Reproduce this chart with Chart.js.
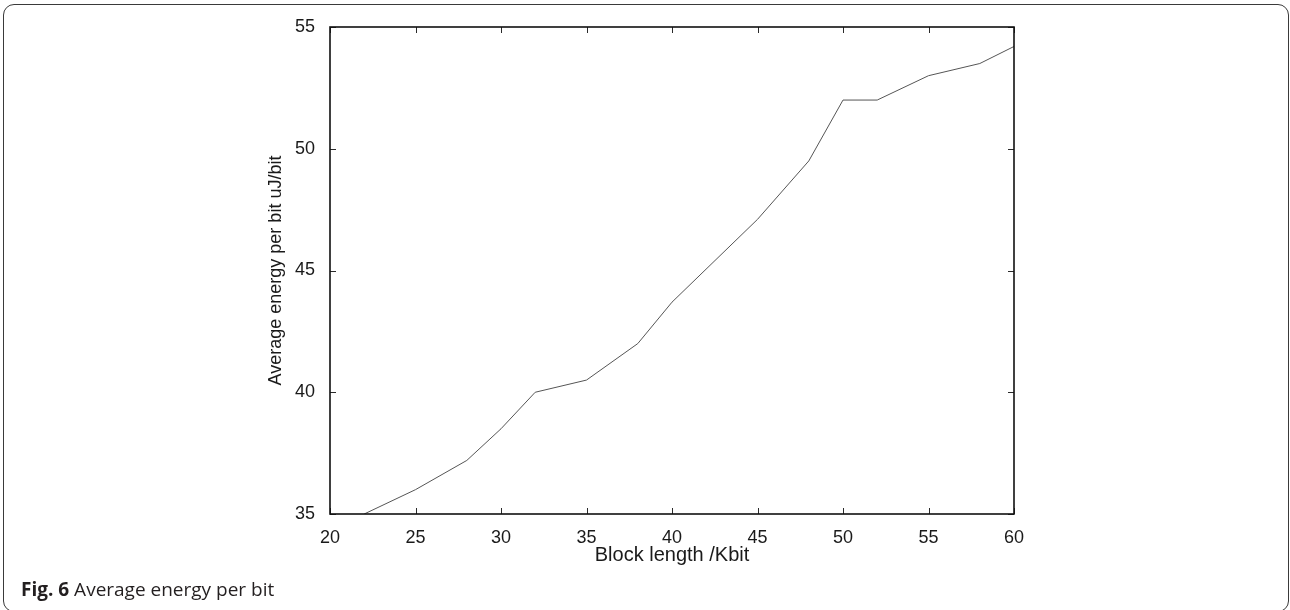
<!DOCTYPE html>
<html>
<head>
<meta charset="utf-8">
<script src="https://cdn.jsdelivr.net/npm/chart.js@4.4.1/dist/chart.umd.min.js"></script>
<style>
  html, body { margin: 0; padding: 0; background: #ffffff; }
  #wrap { position: relative; width: 1290px; height: 610px; overflow: hidden; }
  #frame {
    position: absolute; left: 3px; top: 4px; width: 1286px; height: 608px;
    border: 1.6px solid #3a3a3a; border-radius: 11px; box-sizing: border-box;
  }
  #chart { position: absolute; left: 0; top: 0; }
  #caption {
    position: absolute; left: 21px; top: 580px; line-height: 19px;
    font-family: "Open Sans", "Noto Sans", sans-serif; font-size: 19px; color: #231f20;
    white-space: nowrap;
  }
  #caption b { font-weight: 700; }
</style>
</head>
<body>
<div id="wrap">
  <div id="frame"></div>
  <canvas id="chart" width="1290" height="610"></canvas>
  <div id="caption"><b>Fig. 6</b> Average energy per bit</div>
</div>
<script>
// Block length (Kbit)
const blockLength = [22, 25, 28, 30, 32, 35, 38, 40, 45, 48, 50, 52, 55, 58, 60];
// Average energy per bit (uJ/bit)
const avgEnergy = [35, 36, 37.2, 38.5, 40, 40.5, 42, 43.7, 47.1, 49.5, 52, 52, 53, 53.5, 54.2];
const xTicks = [20, 25, 30, 35, 40, 45, 50, 55, 60];
const yTicks = [35, 40, 45, 50, 55];
const xTitle = 'Block length /Kbit';
const yTitle = 'Average energy per bit uJ/bit';

const points = blockLength.map((x, i) => ({ x: x, y: avgEnergy[i] }));

const boxAndTicks = {
  id: 'boxAndTicks',
  afterDatasetsDraw(chart) {
    const { ctx, chartArea: a, scales: { x, y } } = chart;
    ctx.save();
    ctx.strokeStyle = '#2a2a2a';
    ctx.lineWidth = 1;
    const tl = 6;
    xTicks.forEach(v => {
      const px = Math.round(x.getPixelForValue(v)) + 0.5;
      ctx.beginPath();
      ctx.moveTo(px, a.bottom); ctx.lineTo(px, a.bottom - tl);
      ctx.moveTo(px, a.top); ctx.lineTo(px, a.top + tl);
      ctx.stroke();
    });
    yTicks.forEach(v => {
      const py = Math.round(y.getPixelForValue(v)) + 0.5;
      ctx.beginPath();
      ctx.moveTo(a.left, py); ctx.lineTo(a.left + tl, py);
      ctx.moveTo(a.right, py); ctx.lineTo(a.right - tl, py);
      ctx.stroke();
    });
    ctx.strokeStyle = '#111111';
    ctx.lineWidth = 1.6;
    ctx.strokeRect(a.left, a.top, a.right - a.left, a.bottom - a.top);
    ctx.restore();
  }
};

new Chart(document.getElementById('chart'), {
  type: 'line',
  data: {
    datasets: [{
      data: points,
      borderColor: '#555555',
      borderWidth: 1,
      pointRadius: 0,
      tension: 0,
      fill: false
    }]
  },
  options: {
    responsive: false,
    animation: false,
    layout: { padding: { left: 261, right: 276, top: 27, bottom: 39 } },
    plugins: { legend: { display: false }, tooltip: { enabled: false } },
    scales: {
      x: {
        type: 'linear',
        min: 20, max: 60,
        afterBuildTicks: s => { s.ticks = xTicks.map(v => ({ value: v })); },
        afterFit: s => { s.height = 57; },
        grid: { display: false },
        border: { display: false },
        ticks: {
          padding: 5,
          color: '#1a1a1a',
          maxRotation: 0,
          font: { family: '"Liberation Sans", Arial, sans-serif', size: 18 }
        },
        title: {
          display: true, text: xTitle, color: '#1a1a1a',
          padding: { top: 4, bottom: 4 },
          font: { family: '"Liberation Sans", Arial, sans-serif', size: 20 }
        }
      },
      y: {
        type: 'linear',
        min: 35, max: 55,
        afterBuildTicks: s => { s.ticks = yTicks.map(v => ({ value: v })); },
        afterFit: s => { s.width = 69; },
        grid: { display: false },
        border: { display: false },
        ticks: {
          padding: 7,
          color: '#1a1a1a',
          font: { family: '"Liberation Sans", Arial, sans-serif', size: 18 }
        },
        title: {
          display: true, text: yTitle, color: '#1a1a1a',
          padding: { top: 4, bottom: 4 },
          font: { family: '"Liberation Sans", Arial, sans-serif', size: 18 }
        }
      }
    }
  },
  plugins: [boxAndTicks]
});
</script>
</body>
</html>
